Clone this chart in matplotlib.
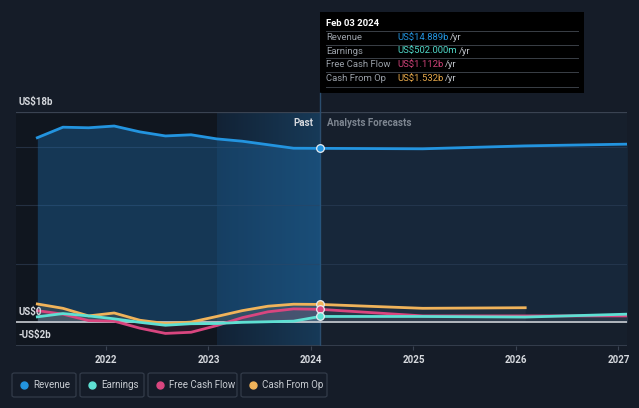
import matplotlib
matplotlib.use('Agg')
import matplotlib.pyplot as plt
from matplotlib.patches import FancyBboxPatch, Rectangle
import numpy as np

plt.rcParams['font.family'] = ['Roboto', 'DejaVu Sans']

# quarterly trailing-twelve-month history (decimal years), values in US$ billions
past_t = [2021.33, 2021.58, 2021.83, 2022.08, 2022.33, 2022.58,
          2022.83, 2023.08, 2023.33, 2023.58, 2023.83, 2024.09]
revenue = [15.8, 16.7, 16.65, 16.8, 16.3, 15.95, 16.05, 15.7, 15.5, 15.2, 14.9, 14.889]
earnings = [0.47, 0.75, 0.55, 0.3, 0.0, -0.25, -0.12, -0.1, 0.0, 0.05, 0.1, 0.502]
fcf = [1.0, 0.7, 0.15, 0.1, -0.5, -0.95, -0.85, -0.28, 0.4, 0.9, 1.15, 1.112]
cfo = [1.57, 1.2, 0.55, 0.8, 0.18, -0.1, 0.02, 0.5, 1.0, 1.38, 1.55, 1.532]

# analyst forecasts
fc_t = [2024.09, 2025.09, 2026.09, 2027.09]
revenue_fc = [14.889, 14.85, 15.1, 15.25]
earnings_fc = [0.502, 0.5, 0.45, 0.7]
fcf_fc = [1.112, 0.55, 0.55, 0.55]
cfo_fc = [1.532, 1.2, 1.25]

now = 2024.09
past_split = 2023.08
years = [2022, 2023, 2024, 2025, 2026, 2027]

BG = '#151c28'
C_REV = '#2394df'
C_EARN = '#5ee0d3'
C_FCF = '#d9467f'
C_CFO = '#f0b35a'

fig = plt.figure(figsize=(6.39, 4.08), dpi=100, facecolor=BG)
ax = fig.add_axes([16 / 639, 1 - 345.7 / 408, 611 / 639, 233.7 / 408])
ax.set_facecolor('#161f2c')
x0, x1 = 2021.122, 2027.083
ax.set_xlim(x0, x1)
ax.set_ylim(-2, 18)
for s in ax.spines.values():
    s.set_visible(False)

# background bands
ax.axvspan(x0, past_split, color='#10161f', zorder=0)
grad = np.linspace(0, 1, 100).reshape(1, -1)
ax.imshow(grad, extent=[past_split, now, -2, 18], aspect='auto',
          cmap=matplotlib.colors.LinearSegmentedColormap.from_list('h', ['#122235', '#173a58']),
          zorder=0.5)

# grid
for g in [5, 10, 15]:
    ax.axhline(g, color='#243042', lw=0.8, zorder=1)
ax.axhline(18, color='#3a4352', lw=0.9, zorder=1)
ax.axhline(-2, color='#3a4352', lw=1.2, zorder=1)

# revenue fill + line
ax.fill_between(past_t, revenue, 0, color='#1f6fae', alpha=0.38, lw=0, zorder=2)
ax.fill_between(fc_t, revenue_fc, 0, color='#1f4f7a', alpha=0.18, lw=0, zorder=2)
ax.plot(past_t, revenue, color=C_REV, lw=2, zorder=5, solid_joinstyle='round')
ax.plot(fc_t, revenue_fc, color=C_REV, lw=2, zorder=5)

# small series
for t, v, tf, vf, c in [(past_t, cfo, fc_t[:3], cfo_fc, C_CFO),
                        (past_t, fcf, fc_t, fcf_fc, C_FCF),
                        (past_t, earnings, fc_t, earnings_fc, C_EARN)]:
    ax.fill_between(t, v, 0, color=c, alpha=0.12, lw=0, zorder=3)
    ax.fill_between(tf, vf, 0, color='#8a8f99', alpha=0.08, lw=0, zorder=3)
    ax.plot(t, v, color=c, lw=2, zorder=6, solid_joinstyle='round')
    ax.plot(tf, vf, color=c, lw=2, zorder=6)

ax.axhline(0, color='#c9cdd3', lw=1.2, zorder=4)

# present markers
for val, c in [(revenue[-1], C_REV), (cfo[-1], C_CFO), (fcf[-1], C_FCF), (earnings[-1], C_EARN)]:
    ax.plot([now], [val], 'o', ms=5.5, mfc=c, mec='#e8edf2', mew=0.9, zorder=8)

# present line
ax.axvline(now, color='#2b4d6e', lw=1, zorder=1.5)
fig.add_artist(plt.Line2D([320 / 639, 320 / 639], [1 - 112 / 408, 1 - 93 / 408],
                          color='#2b4d6e', lw=1))

# x ticks
ax.set_xticks(years)
ax.set_xticklabels([str(y) for y in years], color='#d6d9de', fontsize=7, fontweight='bold')
ax.tick_params(axis='x', length=3, color='#3a4352', pad=4)
ax.set_yticks([])

# y labels
for txt, val in [('US$18b', 18), ('US$0', 0), ('-US$2b', -2)]:
    ax.text(x0 + 0.02, val + 0.45, txt, color='#d6d9de', fontsize=7, fontweight='bold',
            ha='left', va='bottom', zorder=9)
ax.text(now - 0.07, 17.05, 'Past', color='#d6d9de', fontsize=7, fontweight='bold', ha='right', va='center')
ax.text(now + 0.07, 17.05, 'Analysts Forecasts', color='#7d8590', fontsize=7, fontweight='bold',
        ha='left', va='center')

# tooltip
fig.patches.append(Rectangle((320 / 639, 1 - 93 / 408), 264 / 639, 81 / 408,
                             transform=fig.transFigure, facecolor='#000000', edgecolor='none'))
fig.text(326 / 639, 1 - 24 / 408, 'Feb 03 2024', color='#ffffff', fontsize=6.8, fontweight='bold', va='center')
rows = [('Revenue', 'US$14.889b', C_REV), ('Earnings', 'US$502.000m', '#4fd6c6'),
        ('Free Cash Flow', 'US$1.112b', '#cc4277'), ('Cash From Op', 'US$1.532b', '#e6a84a')]
value_texts = []
for i, (lab, val, c) in enumerate(rows):
    yy = 37.5 + i * 13.6
    fig.add_artist(plt.Line2D([326 / 639, 578 / 639], [1 - (yy - 6.5) / 408] * 2, color='#3a3f47', lw=0.7))
    fig.text(326 / 639, 1 - yy / 408, lab, color='#9aa0a8', fontsize=6.8, va='center')
    value_texts.append((fig.text(397 / 639, 1 - yy / 408, val, color=c, fontsize=6.8, va='center'), yy))
fig.add_artist(plt.Line2D([326 / 639, 578 / 639], [1 - 86.5 / 408] * 2, color='#3a3f47', lw=0.7))

# legend
items = [('Revenue', C_REV, 12, 76), ('Earnings', C_EARN, 80, 144),
         ('Free Cash Flow', C_FCF, 148, 237), ('Cash From Op', C_CFO, 241, 327)]
for lab, c, l, r in items:
    fig.patches.append(FancyBboxPatch((l / 639, 1 - 397 / 408), (r - l) / 639, 24 / 408,
                                      boxstyle='round,pad=0,rounding_size=0.004',
                                      transform=fig.transFigure, facecolor=BG,
                                      edgecolor='#323b49', lw=0.9))
    fig.add_artist(plt.Line2D([(l + 12) / 639], [1 - 385 / 408], marker='o', ms=5,
                              color=c, lw=0))
    fig.text((l + 21) / 639, 1 - 385 / 408, lab, color='#c8ccd2', fontsize=7, va='center')

# "/yr" suffix after each value, placed from measured text widths
fig.canvas.draw()
renderer = fig.canvas.get_renderer()
for t, yy in value_texts:
    bb = t.get_window_extent(renderer)
    fig.text(bb.x1 / fig.bbox.width + 2 / 639, 1 - yy / 408, '/yr', color='#c0c4ca',
             fontsize=6.8, va='center')

plt.savefig('out.png', dpi=100, facecolor=BG)
plt.close()
